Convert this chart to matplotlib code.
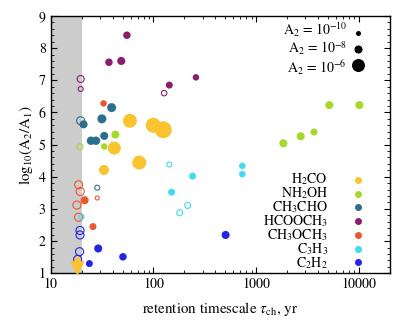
import numpy as np
import matplotlib
matplotlib.use("Agg")
import matplotlib.pyplot as plt
from matplotlib.ticker import AutoMinorLocator

plt.rcParams['font.family'] = ['STIXGeneral', 'DejaVu Serif']
plt.rcParams['mathtext.fontset'] = 'stix'

# species: (label, colour)
species = ['H$_2$CO', 'NH$_2$OH', 'CH$_3$CHO', 'HCOOCH$_3$', 'CH$_3$OCH$_3$', 'C$_3$H$_3$', 'C$_2$H$_2$']
colors = ['#f9c430', '#a8d82e', '#2c6e8e', '#8a1d6d', '#e8592f', '#40daf5', '#2424e4']

# filled points: retention timescale (yr), log10(A2/A1), log10(A2)
h2co_tau = [59.0, 99.5, 124.5, 41.6, 72.8, 33.0, 18.3]
h2co_y = [5.74, 5.60, 5.46, 4.89, 4.44, 4.21, 1.41]
h2co_a2 = [-5.7, -5.4, -4.9, -6.0, -5.7, -7.1, -9.2]
h2co_lim_tau = [17.9]
h2co_lim_y = [1.16]

nh2oh_tau = [42.6, 33.2, 5130, 10050, 3640, 2700, 1832]
nh2oh_y = [5.31, 4.94, 6.23, 6.23, 5.39, 5.26, 5.04]
nh2oh_a2 = [-8.0, -8.9, -8.0, -8.0, -8.6, -8.0, -8.0]
nh2oh_open_tau = [19.3]
nh2oh_open_y = [4.93]
nh2oh_open_a2 = [-9.2]

ch3cho_tau = [39.2, 31.5, 20.9, 24.7, 27.6, 33.2]
ch3cho_y = [6.15, 5.80, 5.63, 5.12, 5.12, 5.27]
ch3cho_a2 = [-7.55, -7.55, -8.0, -7.8, -7.8, -8.0]
ch3cho_open_tau = [19.6, 28.4]
ch3cho_open_y = [5.74, 3.66]
ch3cho_open_a2 = [-8.0, -10.0]

hcooch3_tau = [55.2, 36.9, 48.6, 258.8, 142.6]
hcooch3_y = [8.40, 7.56, 7.60, 7.09, 6.85]
hcooch3_a2 = [-8.3, -8.3, -8.0, -8.9, -8.6]
hcooch3_open_tau = [19.6, 19.6, 127]
hcooch3_open_y = [7.04, 6.73, 6.60]
hcooch3_open_a2 = [-8.6, -10.0, -9.6]

ch3och3_tau = [32.7, 21.4, 25.8]
ch3och3_y = [6.28, 3.27, 2.45]
ch3och3_a2 = [-8.9, -8.0, -8.6]
ch3och3_open_tau = [18.7, 19.4, 18.0, 18.7, 28.4]
ch3och3_open_y = [3.75, 3.54, 3.12, 2.74, 3.34]
ch3och3_open_a2 = [-8.0, -8.0, -8.0, -8.0, -10.9]

c3h3_tau = [240, 150, 731, 731]
c3h3_y = [4.02, 3.52, 4.34, 4.08]
c3h3_a2 = [-8.6, -8.6, -8.9, -8.9]
c3h3_open_tau = [142.6, 215, 180, 20.0]
c3h3_open_y = [4.38, 3.11, 2.88, 2.76]
c3h3_open_a2 = [-10.0, -9.2, -9.2, -10.0]

c2h2_tau = [29.0, 50.5, 23.8, 503]
c2h2_y = [1.77, 1.51, 1.30, 2.19]
c2h2_a2 = [-8.0, -8.3, -8.6, -8.0]
c2h2_open_tau = [19.3, 19.3, 19.1, 18.3]
c2h2_open_y = [2.33, 2.19, 1.67, 1.43]
c2h2_open_a2 = [-8.0, -8.0, -8.0, -8.0]

filled = [
    (h2co_tau, h2co_y, h2co_a2),
    (nh2oh_tau, nh2oh_y, nh2oh_a2),
    (ch3cho_tau, ch3cho_y, ch3cho_a2),
    (hcooch3_tau, hcooch3_y, hcooch3_a2),
    (ch3och3_tau, ch3och3_y, ch3och3_a2),
    (c3h3_tau, c3h3_y, c3h3_a2),
    (c2h2_tau, c2h2_y, c2h2_a2),
]
opened = [
    None,
    (nh2oh_open_tau, nh2oh_open_y, nh2oh_open_a2),
    (ch3cho_open_tau, ch3cho_open_y, ch3cho_open_a2),
    (hcooch3_open_tau, hcooch3_open_y, hcooch3_open_a2),
    (ch3och3_open_tau, ch3och3_open_y, ch3och3_open_a2),
    (c3h3_open_tau, c3h3_open_y, c3h3_open_a2),
    (c2h2_open_tau, c2h2_open_y, c2h2_open_a2),
]

legend_a2 = [-10, -8, -6]


def marker_area(a2):
    # diameter in pixels grows with log10(A2), converted to points^2
    d_px = 5.0 * 1.27 ** (np.asarray(a2) + 10)
    return (d_px * 72 / 100.0) ** 2


fig = plt.figure(figsize=(4.15, 3.32), dpi=100)
ax = fig.add_axes([0.122, 0.177, 0.818, 0.775])

ax.axvspan(10, 20, color='#cccccc', lw=0, zorder=0)

for i in range(len(species)):
    if opened[i] is not None:
        t, y, a = opened[i]
        ax.scatter(t, y, s=marker_area(a), facecolors='none', edgecolors=colors[i],
                   linewidths=0.8, zorder=2)
    t, y, a = filled[i]
    ax.scatter(t, y, s=marker_area(a), color=colors[i], lw=0, zorder=3)

ax.scatter(h2co_lim_tau, h2co_lim_y, marker='v', s=110, color=colors[0], lw=0,
           zorder=3, clip_on=False)

ax.set_xscale('log')
ax.set_xlim(10, 20000)
ax.set_ylim(1, 9)
ax.set_xticks([10, 100, 1000, 10000])
ax.set_xticklabels(['10', '100', '1000', '10000'])
ax.yaxis.set_minor_locator(AutoMinorLocator(5))
ax.tick_params(which='both', direction='in', top=True, right=True, labelsize=10)
ax.tick_params(which='major', length=4, width=0.8)
ax.tick_params(which='minor', length=2, width=0.6)
for sp in ax.spines.values():
    sp.set_linewidth(1.0)

ax.set_xlabel(r'retention timescale $\tau_{\rm ch}$, yr', fontsize=10.8, labelpad=6)
ax.set_ylabel(r'log$_{10}$(A$_2$/A$_1$)', fontsize=10.8, labelpad=3)

# size legend (top right): one block of text, markers beside each line
size_rows = [0.935 - k * 0.062 for k in range(len(legend_a2))]
ax.text(0.873, np.mean(size_rows), '\n'.join(r'A$_2$ = 10$^{%d}$' % a for a in legend_a2),
        transform=ax.transAxes, ha='right', va='center', multialignment='right',
        fontsize=10, linespacing=1.05)
for yy, a in zip(size_rows, legend_a2):
    ax.scatter([0.905], [yy], s=marker_area(a), color='black', lw=0,
               transform=ax.transAxes, zorder=4)

# species legend (bottom right)
species_rows = [0.363 - i * 0.0535 for i in range(len(species))]
ax.text(0.817, np.mean(species_rows), '\n'.join(species), transform=ax.transAxes,
        ha='right', va='center', multialignment='right', fontsize=10, linespacing=0.85)
for yy, c in zip(species_rows, colors):
    ax.scatter([0.905], [yy], s=marker_area(-8.6), color=c, lw=0,
               transform=ax.transAxes, zorder=4)

fig.savefig('out.png', dpi=100)
